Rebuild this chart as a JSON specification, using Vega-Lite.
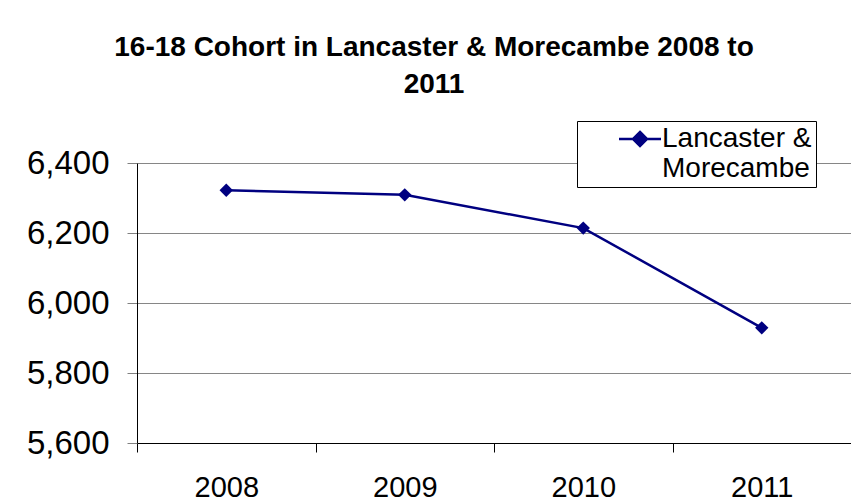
{
  "$schema": "https://vega.github.io/schema/vega-lite/v6.json",
  "autosize": "none",
  "padding": {"left": 137, "top": 163, "right": 0, "bottom": 57},
  "width": 714,
  "height": 280,
  "background": "white",
  "title": {
    "text": ["16-18 Cohort in Lancaster & Morecambe 2008 to", "2011"],
    "font": "Liberation Sans",
    "fontSize": 28,
    "fontWeight": "bold",
    "color": "black",
    "anchor": "middle",
    "dx": -60,
    "lineHeight": 37,
    "offset": 22
  },
  "data": {
    "values": [
      {"year": "2008", "value": 6322, "series": "Lancaster & Morecambe"},
      {"year": "2009", "value": 6309, "series": "Lancaster & Morecambe"},
      {"year": "2010", "value": 6214, "series": "Lancaster & Morecambe"},
      {"year": "2011", "value": 5929, "series": "Lancaster & Morecambe"}
    ]
  },
  "mark": {"type": "line", "strokeWidth": 2.5, "point": {"shape": "diamond", "size": 180, "filled": true, "opacity": 1}},
  "encoding": {
    "x": {
      "field": "year",
      "type": "ordinal",
      "scale": {"paddingInner": 0, "paddingOuter": 0},
      "axis": {
        "title": null,
        "labelAngle": 0,
        "labelFont": "Liberation Sans",
        "labelFontSize": 29,
        "labelColor": "black",
        "labelBaseline": "top",
        "labelPadding": 21,
        "tickBand": "extent",
        "tickSize": 9,
        "tickColor": "black",
        "domainColor": "black",
        "grid": false
      }
    },
    "y": {
      "field": "value",
      "type": "quantitative",
      "scale": {"domain": [5600, 6400], "zero": false, "nice": false},
      "axis": {
        "title": null,
        "values": [5600, 5800, 6000, 6200, 6400],
        "format": ",.0f",
        "labelFont": "Liberation Sans",
        "labelFontSize": 33,
        "labelColor": "black",
        "labelPadding": 18,
        "tickSize": 10,
        "tickColor": "#808080",
        "domainColor": "black",
        "grid": true,
        "gridColor": "#868686",
        "gridWidth": 1
      }
    },
    "color": {
      "field": "series",
      "type": "nominal",
      "scale": {"range": ["#000080"]},
      "legend": {
        "title": null,
        "orient": "none",
        "legendX": 440,
        "legendY": -42,
        "strokeColor": "black",
        "fillColor": "white",
        "padding": 4,
        "labelExpr": "['Lancaster &\u00a0\u00a0\u00a0', 'Morecambe']",
        "labelFont": "Liberation Sans",
        "labelFontSize": 28,
        "labelColor": "black",
        "labelLimit": 400,
        "labelOffset": 8,
        "symbolOffset": 45,
        "symbolSize": 196,
        "symbolType": "M-3,0H3M0,-1L1,0L0,1L-1,0Z",
        "symbolStrokeWidth": 2.5,
        "symbolFillColor": "#000080",
        "symbolStrokeColor": "#000080"
      }
    }
  },
  "config": {
    "view": {"stroke": null},
    "font": "Liberation Sans",
    "text": {"lineHeight": 32}
  }
}
